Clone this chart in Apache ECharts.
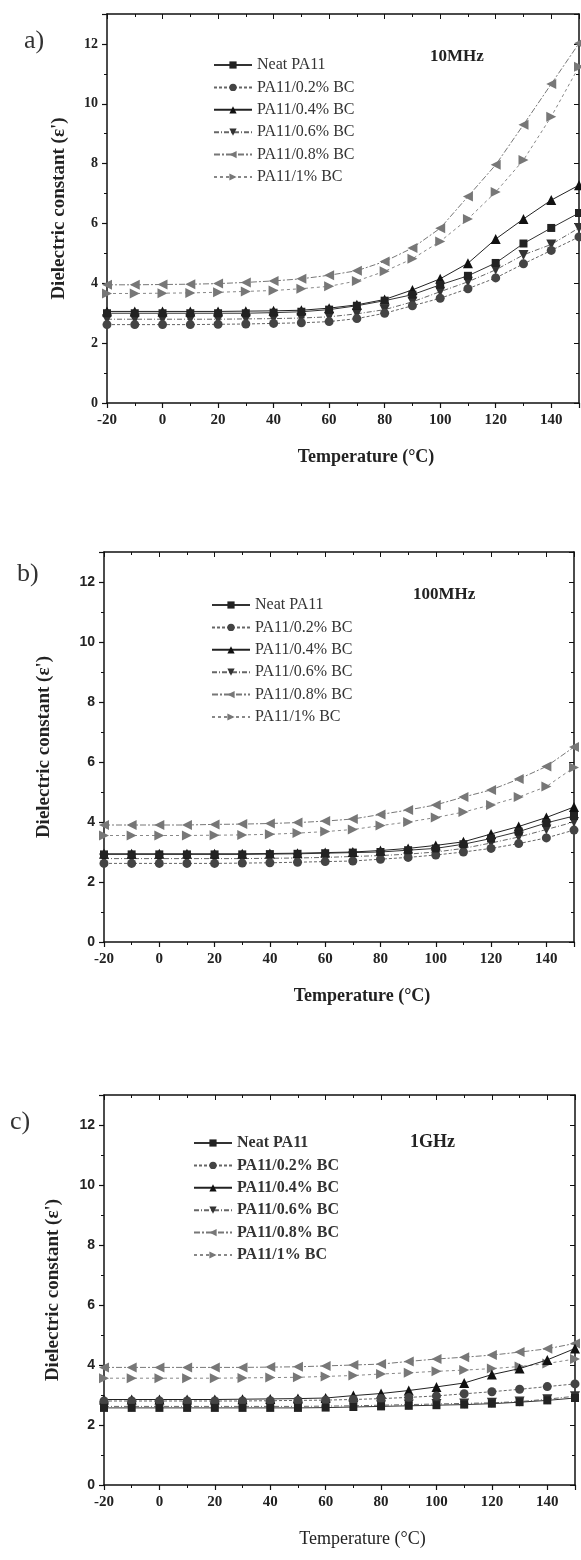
<!DOCTYPE html>
<html>
<head>
<meta charset="utf-8">
<script src="https://cdn.jsdelivr.net/npm/echarts@6/dist/echarts.min.js"></script>
<style>
html,body{margin:0;padding:0;background:#fff;}
#chart{width:581px;height:1560px;}
</style>
</head>
<body>
<div id="chart"></div>
<script>
// ---------- data ----------
var temperatures = [-20,-10,0,10,20,30,40,50,60,70,80,90,100,110,120,130,140,150];
var seriesNames = ['Neat PA11','PA11/0.2% BC','PA11/0.4% BC','PA11/0.6% BC','PA11/0.8% BC','PA11/1% BC'];
var panelLabels = ['a)','b)','c)'];
var freqLabels = ['10MHz','100MHz','1GHz'];
var xTickLabels = [-20,0,20,40,60,80,100,120,140];
var yTickLabels = [0,2,4,6,8,10,12];

// (a) 10 MHz
var neatA = [3.0,3.0,3.0,3.0,3.0,3.0,3.02,3.05,3.12,3.25,3.42,3.62,3.95,4.25,4.68,5.33,5.85,6.35];
var pa02A = [2.62,2.62,2.62,2.62,2.63,2.64,2.66,2.68,2.72,2.82,3.0,3.25,3.5,3.82,4.18,4.65,5.1,5.55];
var pa04A = [3.06,3.06,3.06,3.06,3.06,3.07,3.08,3.1,3.17,3.28,3.46,3.78,4.15,4.67,5.48,6.15,6.78,7.28];
var pa06A = [2.8,2.8,2.8,2.8,2.8,2.81,2.82,2.84,2.88,2.98,3.12,3.38,3.72,4.05,4.45,4.95,5.3,5.85];
var pa08A = [3.95,3.95,3.96,3.97,3.99,4.03,4.08,4.15,4.27,4.42,4.73,5.18,5.84,6.9,7.96,9.3,10.66,12.02];
var pa1A  = [3.66,3.66,3.67,3.68,3.7,3.73,3.76,3.82,3.9,4.08,4.4,4.82,5.4,6.15,7.05,8.12,9.57,11.24];

// (b) 100 MHz
var neatB = [2.92,2.92,2.92,2.92,2.92,2.92,2.93,2.94,2.96,2.98,3.0,3.06,3.12,3.26,3.45,3.68,3.97,4.2];
var pa02B = [2.62,2.62,2.62,2.62,2.62,2.63,2.64,2.66,2.68,2.7,2.76,2.82,2.9,3.0,3.12,3.28,3.47,3.73];
var pa04B = [2.94,2.94,2.94,2.94,2.94,2.94,2.95,2.96,2.98,3.0,3.05,3.12,3.22,3.34,3.6,3.85,4.15,4.5];
var pa06B = [2.78,2.78,2.78,2.78,2.78,2.78,2.79,2.8,2.82,2.85,2.88,2.93,3.0,3.12,3.3,3.5,3.75,4.0];
var pa08B = [3.9,3.9,3.9,3.9,3.92,3.93,3.95,3.98,4.03,4.1,4.25,4.4,4.57,4.83,5.07,5.43,5.85,6.5];
var pa1B  = [3.55,3.55,3.55,3.55,3.56,3.57,3.59,3.63,3.68,3.75,3.88,4.0,4.15,4.33,4.57,4.83,5.18,5.82];

// (c) 1 GHz
var neatC = [2.57,2.57,2.57,2.57,2.57,2.57,2.57,2.57,2.58,2.6,2.62,2.64,2.66,2.68,2.71,2.76,2.82,2.9];
var pa02C = [2.8,2.8,2.8,2.8,2.8,2.8,2.81,2.82,2.83,2.85,2.88,2.92,2.97,3.04,3.11,3.19,3.28,3.37];
var pa04C = [2.85,2.85,2.85,2.85,2.85,2.86,2.87,2.88,2.9,2.98,3.05,3.15,3.27,3.4,3.68,3.88,4.17,4.55];
var pa06C = [2.62,2.62,2.62,2.62,2.62,2.62,2.62,2.62,2.63,2.64,2.66,2.68,2.7,2.72,2.74,2.78,2.86,2.96];
var pa08C = [3.92,3.92,3.92,3.92,3.92,3.92,3.93,3.94,3.97,4.0,4.03,4.12,4.2,4.26,4.33,4.43,4.54,4.72];
var pa1C  = [3.56,3.56,3.56,3.56,3.56,3.57,3.58,3.59,3.62,3.65,3.7,3.74,3.79,3.83,3.88,3.95,4.05,4.2];

var panelData = [
  [neatA, pa02A, pa04A, pa06A, pa08A, pa1A],
  [neatB, pa02B, pa04B, pa06B, pa08B, pa1B],
  [neatC, pa02C, pa04C, pa06C, pa08C, pa1C]
];

// ---------- styles ----------
var SERIF = '"Liberation Serif","DejaVu Serif",serif';
var SANS = '"Liberation Sans",Arial,sans-serif';
var triRight = 'path://M0,0 L10,5 L0,10 Z';
var triLeft = 'path://M10,0 L0,5 L10,10 Z';
var triDown = 'path://M0,0 L10,0 L5,9 Z';
var styles = [
  {symbol:'rect', size:8, color:'#222', line:'#333', type:'solid'},
  {symbol:'circle', size:9, color:'#444', line:'#666', type:[3,2]},
  {symbol:'triangle', size:10, color:'#111', line:'#222', type:'solid'},
  {symbol:triDown, size:10, color:'#333', line:'#666', type:[5,2,1,2]},
  {symbol:triLeft, size:10, color:'#777', line:'#777', type:[6,2,2,2]},
  {symbol:triRight, size:10, color:'#777', line:'#888', type:[3,3]}
];

var grids = [
  {left:107, right:2, top:14, height:389},
  {left:104, right:7, top:552, height:390},
  {left:104, right:6, top:1095, height:390}
];
var yNameGap = [38, 50, 41];
var yLabelFont = [SERIF, SANS, SANS];
var legendPos = [
  {left:213, top:57, bold:'normal'},
  {left:211, top:597, bold:'normal'},
  {left:193, top:1135, bold:'bold'}
];
var labelPos = [{left:24, top:28},{left:17, top:561},{left:10, top:1109}];
var freqPos = [{left:430, top:48},{left:413, top:586},{left:410, top:1133}];
var freqSize = [17, 17, 18];
var xTitleWeight = ['bold','bold','normal'];

var xAxes = [], yAxes = [], series = [], legends = [], titles = [];
for (var p = 0; p < 3; p++) {
  xAxes.push({
    type:'value', gridIndex:p, min:-20, max:150, interval:20, position:'bottom',
    name:'Temperature (°C)', nameLocation:'middle', nameGap:45,
    nameTextStyle:{fontFamily:SERIF, fontSize:18, fontWeight:xTitleWeight[p], color:'#222', padding:[0,0,0,46]},
    axisLine:{onZero:false, lineStyle:{color:'#111', width:1.5}},
    axisTick:{inside:false, length:5, lineStyle:{color:'#111', width:1.2}},
    minorTick:{show:true, splitNumber:2, length:3, lineStyle:{color:'#111'}},
    splitLine:{show:false},
    axisLabel:{fontFamily:SERIF, fontWeight:'bold', fontSize:15, color:'#222', margin:10, showMaxLabel:false,
      formatter:function(v){ return xTickLabels.indexOf(v) >= 0 ? String(v) : ''; }}
  });
  xAxes.push({
    type:'value', gridIndex:p, min:-20, max:150, interval:20, position:'top',
    axisLine:{onZero:false, lineStyle:{color:'#111', width:1.5}},
    axisTick:{inside:true, length:5, lineStyle:{color:'#111'}},
    minorTick:{show:true, splitNumber:2, length:3, lineStyle:{color:'#111'}},
    splitLine:{show:false}, axisLabel:{show:false}
  });
  yAxes.push({
    type:'value', gridIndex:p, min:0, max:13, interval:2, position:'left',
    name:"Dielectric constant (ε')", nameLocation:'middle', nameGap:yNameGap[p],
    nameTextStyle:{fontFamily:SERIF, fontSize:19, fontWeight:'bold', color:'#222'},
    axisLine:{onZero:false, lineStyle:{color:'#111', width:1.5}},
    axisTick:{inside:false, length:5, lineStyle:{color:'#111', width:1.2}},
    minorTick:{show:true, splitNumber:2, length:3, lineStyle:{color:'#111'}},
    splitLine:{show:false},
    axisLabel:{fontFamily:yLabelFont[p], fontWeight:'bold', fontSize:14, color:'#222', margin:9, showMaxLabel:false,
      formatter:function(v){ return yTickLabels.indexOf(v) >= 0 ? String(v) : ''; }}
  });
  yAxes.push({
    type:'value', gridIndex:p, min:0, max:13, interval:2, position:'right',
    axisLine:{onZero:false, lineStyle:{color:'#111', width:1.5}},
    axisTick:{inside:true, length:5, lineStyle:{color:'#111'}},
    minorTick:{show:true, splitNumber:2, length:3, lineStyle:{color:'#111'}},
    splitLine:{show:false}, axisLabel:{show:false}
  });
  for (var s = 0; s < 6; s++) {
    var st = styles[s];
    var vals = panelData[p][s];
    var pts = [];
    for (var i = 0; i < temperatures.length; i++) pts.push([temperatures[i], vals[i]]);
    series.push({
      name:seriesNames[s], type:'line', xAxisIndex:p*2, yAxisIndex:p*2,
      data:pts, symbol:st.symbol, symbolSize:st.size, showAllSymbol:true,
      clip:false, animation:false,
      itemStyle:{color:st.color},
      lineStyle:{color:st.line, width:1, type:st.type},
      z: 10 - s
    });
  }
  legends.push({
    orient:'vertical', left:legendPos[p].left, top:legendPos[p].top, padding:0,
    itemWidth:38, itemHeight:9, itemGap:6.4, data:seriesNames.slice(),
    textStyle:{fontFamily:SERIF, fontSize:16, lineHeight:16, color:'#333', fontWeight:legendPos[p].bold}
  });
  titles.push({text:panelLabels[p], left:labelPos[p].left, top:labelPos[p].top, padding:0,
    textStyle:{fontFamily:SERIF, fontSize:26, fontWeight:'normal', color:'#333'}});
  titles.push({text:freqLabels[p], left:freqPos[p].left, top:freqPos[p].top, padding:0,
    textStyle:{fontFamily:SERIF, fontSize:freqSize[p], fontWeight:'bold', color:'#222'}});
}

var chart = echarts.init(document.getElementById('chart'), null, {renderer:'canvas'});
chart.setOption({
  animation:false,
  backgroundColor:'#fff',
  title:titles,
  grid:grids,
  xAxis:xAxes,
  yAxis:yAxes,
  legend:legends,
  series:series
});
</script>
</body>
</html>
